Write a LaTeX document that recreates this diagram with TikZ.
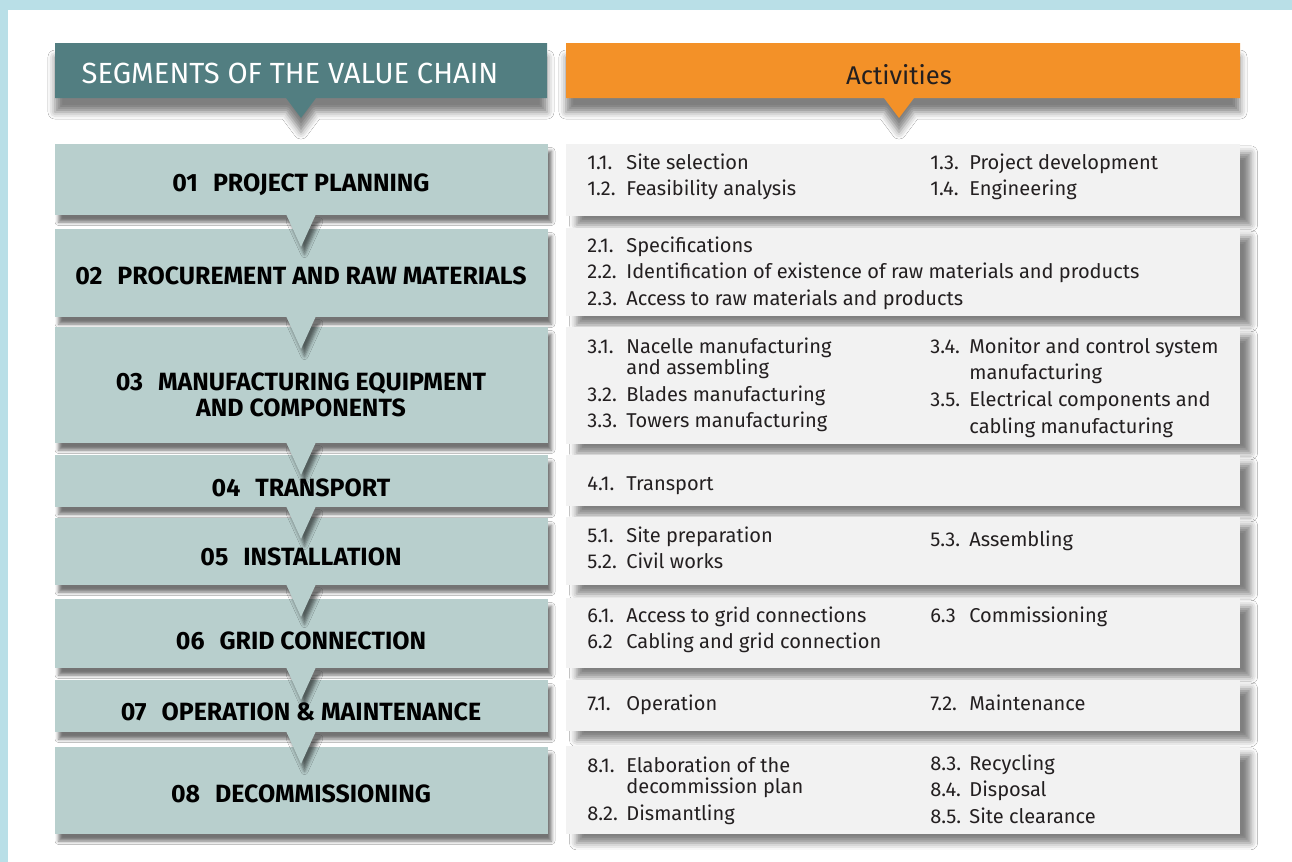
\documentclass[tikz,border=0pt]{standalone}
\usepackage{fontspec}
\setmainfont{Fira Sans}
\usepackage{xcolor}
\usetikzlibrary{calc,shadows.blur}
\definecolor{framecolor}{RGB}{185,223,231}
\definecolor{segheadcolor}{RGB}{82,126,129}
\definecolor{actheadcolor}{RGB}{243,145,40}
\definecolor{segcolor}{RGB}{184,207,205}
\definecolor{actcolor}{RGB}{242,242,242}
\definecolor{textcolor}{RGB}{35,31,32}
\newcommand{\actlist}[1]{\begin{tabular}[t]{@{}p{22.2pt}@{}l@{}}#1\end{tabular}}
\tikzset{
  head box/.style={
    blur shadow={shadow xshift=0pt, shadow yshift=-8pt,
      shadow blur radius=4pt, shadow opacity=50}
  },
  seg box/.style={
    fill=segcolor,
    blur shadow={shadow xshift=2pt, shadow yshift=-4pt,
      shadow blur radius=2pt, shadow opacity=55}
  },
  act box/.style={
    fill=actcolor,
    blur shadow={shadow xshift=6pt, shadow yshift=-5pt,
      shadow blur radius=4pt, shadow opacity=50}
  },
  seg label/.style={
    font=\fontsize{14.2}{14.8}\selectfont\bfseries,
    align=center,
    inner sep=0pt,
    text=black
  },
  act col/.style={
    anchor=base west,
    inner sep=0pt,
    font=\fontsize{11.4}{15.36}\selectfont,
    text=textcolor
  }
}

\begin{document}
\begin{tikzpicture}[x=0.02cm, y=-0.02cm]
  % frame
  \useasboundingbox (0,0) rectangle (1292,862);
  \fill[framecolor] (0,0) rectangle (1292,862);
  \fill[white] (8,10) rectangle (1292,862);

  % header bars
  \fill[segheadcolor, head box] (55,43) -- (547,43) -- (547,98) -- (316,98)
    -- (301,118) -- (286,98) -- (55,98) -- cycle;
  \fill[actheadcolor, head box] (566,43) -- (1240,43) -- (1240,98) -- (914,98)
    -- (899,118) -- (884,98) -- (566,98) -- cycle;
  \node[text=white, inner sep=0pt, font=\fontsize{16.6}{18}\selectfont] (seghead)
    at (290,73) {SEGMENTS OF THE VALUE CHAIN};
  \node[text=textcolor, inner sep=0pt, font=\fontsize{14.6}{18}\selectfont] (acthead)
    at (899,75) {Activities};

  % segment boxes
  \foreach \t/\b in {144/215, 229/317, 327/443, 455/507, 518/585, 599/668, 680/732, 747/834}
    \fill[seg box] (55,\t) rectangle (548,\b);
  \foreach \b in {215, 317, 443, 507, 585, 668, 732}
    \fill[seg box] (286,\b-1) -- (316,\b-1) -- (301,\b+32) -- cycle;

  % activity boxes
  \foreach \t/\b in {144/216, 228/316, 327/444, 455/506, 517/585, 598/668, 680/731, 746/834}
    \fill[act box] (566,\t) rectangle (1240,\b);

  % segment labels
  \node[seg label] (seg1) at (301,185) {01\hspace{0.6em}PROJECT PLANNING};
  \node[seg label] (seg2) at (301,276) {02\hspace{0.6em}PROCUREMENT AND RAW MATERIALS};
  \node[seg label] (seg3) at (301,395) {03\hspace{0.6em}MANUFACTURING EQUIPMENT\\AND COMPONENTS};
  \node[seg label] (seg4) at (301,488) {04\hspace{0.6em}TRANSPORT};
  \node[seg label] (seg5) at (301,557) {05\hspace{0.6em}INSTALLATION};
  \node[seg label] (seg6) at (301,641) {06\hspace{0.6em}GRID CONNECTION};
  \node[seg label] (seg7) at (301,712) {07\hspace{0.6em}OPERATION \& MAINTENANCE};
  \node[seg label] (seg8) at (301,794) {08\hspace{0.6em}DECOMMISSIONING};

  % activities
  \node[act col] (act1a) at (587,169) {\actlist{1.1. & Site selection\\ 1.2. & Feasibility analysis}};
  \node[act col] (act1b) at (930,169) {\actlist{1.3. & Project development\\ 1.4. & Engineering}};
  \node[act col] (act2a) at (587,252) {\actlist{2.1. & Specifications\\
    2.2. & Identification of existence of raw materials and products\\
    2.3. & Access to raw materials and products}};
  \node[act col] (act3a) at (587,353) {\actlist{3.1. & Nacelle manufacturing\\[-3.4pt]
    & and assembling\\ 3.2. & Blades manufacturing\\ 3.3. & Towers manufacturing}};
  \node[act col] (act3b) at (930,353) {\actlist{3.4. & Monitor and control system\\
    & manufacturing\\ 3.5. & Electrical components and\\ & cabling manufacturing}};
  \node[act col] (act4a) at (587,490) {\actlist{4.1. & Transport}};
  \node[act col] (act5a) at (587,542) {\actlist{5.1. & Site preparation\\ 5.2. & Civil works}};
  \node[act col] (act5b) at (930,546) {\actlist{5.3. & Assembling}};
  \node[act col] (act6a) at (587,622) {\actlist{6.1. & Access to grid connections\\
    6.2 & Cabling and grid connection}};
  \node[act col] (act6b) at (930,622) {\actlist{6.3 & Commissioning}};
  \node[act col] (act7a) at (587,710) {\actlist{7.1. & Operation}};
  \node[act col] (act7b) at (930,710) {\actlist{7.2. & Maintenance}};
  \node[act col] (act8a) at (587,772) {\actlist{8.1. & Elaboration of the\\[-3.4pt]
    & decommission plan\\ 8.2. & Dismantling}};
  \node[act col] (act8b) at (930,770) {\actlist{8.3. & Recycling\\ 8.4. & Disposal\\
    8.5. & Site clearance}};
\end{tikzpicture}
\end{document}
